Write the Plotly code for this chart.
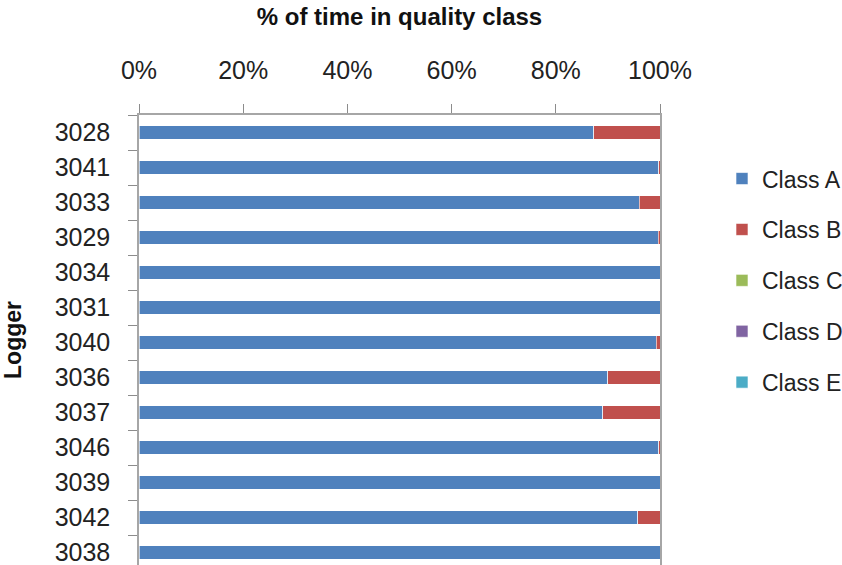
import plotly.graph_objects as go

loggers = ["3028", "3041", "3033", "3029", "3034", "3031", "3040",
           "3036", "3037", "3046", "3039", "3042", "3038"]
class_a = [87.3, 99.8, 96.0, 99.7, 100.0, 100.0, 99.3, 90.0, 89.0, 99.8, 100.0, 95.7, 100.0]
class_b = [12.7, 0.2, 4.0, 0.3, 0.0, 0.0, 0.7, 10.0, 11.0, 0.2, 0.0, 4.3, 0.0]
class_c = [0.0] * 13
class_d = [0.0] * 13
class_e = [0.0] * 13

series = [
    ("Class A", class_a, "#4F81BD"),
    ("Class B", class_b, "#C0504D"),
    ("Class C", class_c, "#9BBB59"),
    ("Class D", class_d, "#8064A2"),
    ("Class E", class_e, "#4BACC6"),
]

FONT = "Liberation Sans"
fig = go.Figure()
for name, vals, col in series:
    fig.add_trace(go.Bar(
        y=loggers, x=vals, name=name, orientation="h",
        marker=dict(color=col, line=dict(color="rgba(255,255,255,0.6)", width=1)),
        legendgroup=name,
    ))

fig.update_layout(
    width=842, height=565,
    barmode="stack", bargap=0.61,
    plot_bgcolor="white", paper_bgcolor="white",
    margin=dict(l=139, r=182, t=115, b=0, autoexpand=False),
    font=dict(family=FONT, size=24, color="#222222"),
    legend=dict(xref="container", x=0.8575, xanchor="left",
                y=0.632, yanchor="middle",
                traceorder="grouped", tracegroupgap=18,
                font=dict(family=FONT, size=23, color="#222222"),
                itemwidth=30),
    showlegend=True,
)
fig.update_xaxes(
    side="top", range=[0, 100], dtick=20, ticksuffix="%",
    ticks="outside", ticklen=9, tickcolor="#8c8c8c",
    showline=True, linecolor="#a6a6a6", linewidth=1.5,
    showgrid=False, zeroline=False, automargin=False,
    tickfont=dict(family=FONT, size=25, color="#222222"),
    ticklabelstandoff=15,
    title=dict(text="<b>% of time in quality class</b>", standoff=24,
               font=dict(family=FONT, size=24, color="#111111")),
)
fig.update_yaxes(
    type="category", categoryorder="array", categoryarray=loggers,
    range=[12.357, -0.5],
    ticks="outside", ticklen=9, tickcolor="#8c8c8c", tickson="boundaries",
    showline=True, linecolor="#a6a6a6", linewidth=1.5, mirror=True,
    showgrid=False, zeroline=False, automargin=False,
    tickfont=dict(family=FONT, size=25, color="#222222"),
    ticklabelstandoff=22,
    title=dict(text="<b>Logger</b>", standoff=29,
               font=dict(family=FONT, size=23, color="#111111")),
)

fig.write_html("out.html", config={"displayModeBar": False},
               post_script="document.body.style.margin='0';")
